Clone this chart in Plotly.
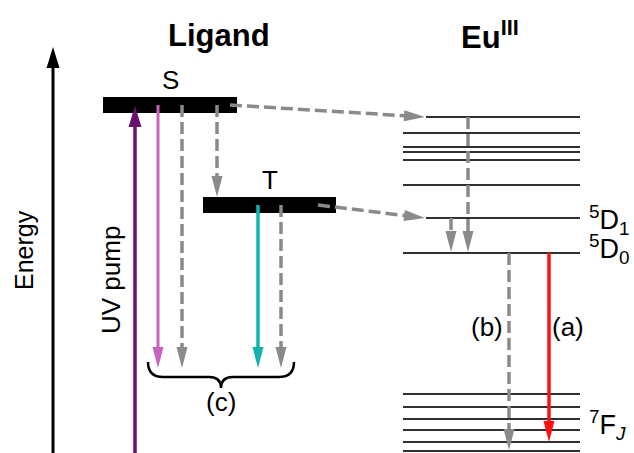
import math
import plotly.graph_objects as go

W, H = 634, 453
FONT = "Liberation Sans, Arial, sans-serif"

# ---------------- data (energies, arbitrary units: higher = more energetic) ----
ligand_states = ["S", "T"]
ligand_energy = [348, 248]
ligand_ground = 85            # level reached by ligand relaxation arrows
eu_upper_levels = [336, 320, 306, 301, 293, 268]   # higher Eu(III) excited levels
eu_D1 = 235                    # 5D1
eu_D0 = 200                    # 5D0
eu_7F_levels = [59, 46, 34, 23, 11, 2]             # 7FJ manifold
energy_axis_top = 406
uv_pump_top = 347
pump_bottom = 0
b_end = 3                      # (b) non-radiative arrow end
a_end = 11                     # (a) red emission end

titles = ["Ligand", "Eu<sup>III</sup>"]
eu_labels = ["<sup>5</sup>D<sub>1</sub>", "<sup>5</sup>D<sub>0</sub>", "<sup>7</sup>F<sub><i>J</i></sub>"]
process_labels = ["(a)", "(b)", "(c)"]

# ---------------- layout constants (positions / styles) -------------------------
GRAY = "#8a8a8a"
LINE = "#303030"
S_X = (103, 237)
T_X = (203, 336)
BAR_H = 16
EU_X0, EU_X1 = 403, 580
EU_ARR_X0 = 426

shapes = []
annotations = []


def head(tip, tail, L=20, Wd=11, color="black"):
    (xt, yt), (x0, y0) = tip, tail
    dx, dy = xt - x0, yt - y0
    n = math.hypot(dx, dy)
    ux, uy = dx / n, dy / n
    bx, by = xt - ux * L, yt - uy * L
    px, py = -uy * Wd / 2, ux * Wd / 2
    path = f"M {xt},{yt} L {bx+px},{by+py} L {bx-px},{by-py} Z"
    shapes.append(dict(type="path", path=path, xref="x", yref="y",
                       fillcolor=color, line=dict(width=0), layer="above"))
    return bx + ux * 2, by + uy * 2


def arrow(x0, y0, x1, y1, color, width=3, dash=None, L=20, Wd=11):
    bx, by = head((x1, y1), (x0, y0), L, Wd, color)
    ln = dict(color=color, width=width)
    if dash:
        ln["dash"] = dash
    shapes.append(dict(type="line", x0=x0, y0=y0, x1=bx, y1=by, xref="x", yref="y",
                       line=ln, layer="above"))


# ligand bars
for name, e, (xa, xb) in zip(ligand_states, ligand_energy, [S_X, T_X]):
    shapes.append(dict(type="rect", x0=xa, x1=xb, y0=e - BAR_H / 2, y1=e + BAR_H / 2,
                       xref="x", yref="y", fillcolor="black", line=dict(width=0),
                       layer="below"))

# Eu levels
for i, e in enumerate(eu_upper_levels + [eu_D1, eu_D0] + eu_7F_levels):
    x0 = EU_ARR_X0 if e in (eu_upper_levels[0], eu_D1) else EU_X0
    shapes.append(dict(type="line", x0=x0, x1=EU_X1, y0=e, y1=e, xref="x", yref="y",
                       line=dict(color=LINE, width=2), layer="below"))

S_E, T_E = ligand_energy
DASH = "12px,5px"

# energy axis
arrow(53, pump_bottom, 53, energy_axis_top, "black", width=3, L=21, Wd=13)
# UV pump
arrow(135, pump_bottom, 135, uv_pump_top, "#6a1070", width=3.5, L=21, Wd=13)
# fluorescence
arrow(158, S_E, 158, ligand_ground, "#c862c0", width=3, L=21, Wd=11)
# non-radiative S
arrow(182, S_E, 182, ligand_ground, GRAY, width=3.5, dash=DASH, L=21, Wd=11)
# ISC S -> T
arrow(217, S_E, 217, T_E + BAR_H / 2, GRAY, width=3.5, dash=DASH, L=21, Wd=11)
# phosphorescence
arrow(258, T_E, 258, ligand_ground, "#12b2ae", width=3.5, L=21, Wd=11)
# non-radiative T
arrow(281, T_E, 281, ligand_ground, GRAY, width=3.5, dash=DASH, L=21, Wd=11)
# energy transfer
arrow(230, S_E, 425, eu_upper_levels[0], GRAY, width=3.5, dash=DASH, L=21, Wd=11)
arrow(318, T_E, 425, eu_D1, GRAY, width=3.5, dash=DASH, L=21, Wd=11)
# Eu internal relaxation
arrow(468, eu_upper_levels[0], 468, eu_D0 + 1, GRAY, width=3.5, dash=DASH, L=21, Wd=11)
arrow(451, eu_D1, 451, eu_D0 + 1, GRAY, width=3.5, dash=DASH, L=21, Wd=11)
# (b) non-radiative
arrow(509, eu_D0, 509, b_end, GRAY, width=3.5, dash=DASH, L=21, Wd=11)
# (a) emission
arrow(549, eu_D0, 549, a_end, "#ff1010", width=3.5, L=21, Wd=11)

# brace (c)
bl, br, bc = 148, 294, 221
yt, ym, yp = 91, 76, 65
brace = (f"M {bl},{yt} Q {bl},{ym} {bl+15},{ym} L {bc-12},{ym} "
         f"Q {bc},{ym} {bc},{yp} Q {bc},{ym} {bc+12},{ym} L {br-15},{ym} "
         f"Q {br},{ym} {br},{yt}")
shapes.append(dict(type="path", path=brace, xref="x", yref="y",
                   line=dict(color="black", width=2.5)))


def text(x, y, s, size, xanchor="center", bold=False, angle=0):
    annotations.append(dict(x=x, y=y, xref="x", yref="y", text=f"<b>{s}</b>" if bold else s,
                            showarrow=False, xanchor=xanchor, yanchor="middle",
                            textangle=angle,
                            font=dict(family=FONT, size=size, color="black")))


text(219, 418, titles[0], 31, bold=True)
text(490, 418, titles[1], 31, bold=True)
text(170, 373, ligand_states[0], 26)
text(270, 273, ligand_states[1], 26)
text(24, 203, "Energy", 25, angle=-90)
text(111, 173, "UV pump", 26, angle=-90)
text(221, 51, process_labels[2], 26)
text(487, 126, process_labels[1], 26)
text(568, 126, process_labels[0], 26)
text(587, 233, eu_labels[0], 27, xanchor="left")
text(587, 204, eu_labels[1], 27, xanchor="left")
text(587, 28, eu_labels[2], 27, xanchor="left")

fig = go.Figure()
fig.update_layout(
    width=W, height=H, margin=dict(l=0, r=0, t=0, b=0),
    paper_bgcolor="white", plot_bgcolor="white",
    xaxis=dict(range=[0, W], visible=False, fixedrange=True),
    yaxis=dict(range=[0, H], visible=False, fixedrange=True),
    shapes=shapes, annotations=annotations, showlegend=False,
)
fig.write_html("out.html")
